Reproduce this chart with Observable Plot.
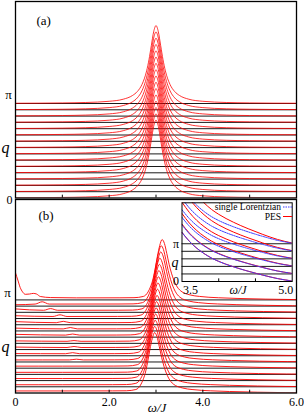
<!DOCTYPE html>
<html><head><meta charset="utf-8">
<script src="https://cdn.jsdelivr.net/npm/d3@7"></script>
<script src="https://cdn.jsdelivr.net/npm/@observablehq/plot@0.6"></script>
<style>
body{margin:0;background:#fff;}
#chart{position:relative;width:304px;height:415px;overflow:hidden;font-family:"Liberation Serif","DejaVu Serif",serif;}
#chart svg{position:absolute;overflow:visible;}
#chart svg text{font-family:"Liberation Serif","DejaVu Serif",serif !important;}
</style></head><body><div id="chart"></div>
<script>
// ---- data ----
const levels = [0,1,2,3,4,5,6,7,8,9,10,11,12,13,14,15];   // q index, q = k*pi/16
const xTickMinor = [1,2,3,4,5];
const xTickLabels = [0,2,4,6];

// panel (a): peak profile (offset from center, height in q-steps)
const centerA = 3.0;
const peakAOffset = [-3.0,-2.0,-1.5,-1.0,-0.7,-0.5,-0.4,-0.3,-0.2,-0.15,-0.1,-0.05,0,0.05,0.1,0.15,0.2,0.3,0.4,0.5,0.7,1.0,1.5,2.0,3.0];
const peakAHeight = [0.04,0.09,0.16,0.35,0.68,1.28,1.89,3.01,5.18,6.94,9.18,11.38,12.36,11.38,9.18,6.94,5.18,3.01,1.89,1.28,0.68,0.35,0.16,0.09,0.04];

// panel (b): peak centers per q, asymmetric profile, low-frequency features
const centersB = [2.97,2.97,2.98,2.99,3.00,3.01,3.02,3.03,3.04,3.05,3.06,3.07,3.08,3.10,3.11,3.13];
const peakBOffset = [-0.9,-0.6,-0.4,-0.3,-0.25,-0.2,-0.15,-0.1,-0.05,0,0.05,0.1,0.15,0.2,0.3,0.4,0.6,0.8,1.2,1.6,2.2,2.8];
const peakBHeight = [0.34,0.36,0.56,1.28,2.07,3.19,4.94,7.02,8.77,9.73,9.09,7.50,5.74,4.31,2.39,1.44,0.80,0.56,0.35,0.24,0.13,0.06];
const endB = 0.05;
const topLowB = [[0,4.35],[0.05,3.2],[0.1,2.0],[0.15,1.3],[0.21,0.9],[0.3,0.95],[0.38,1.05],[0.45,0.95],[0.53,0.55],[0.75,0.38],[1.3,0.33]];
const startB  = [0.33,0.33,0.33,0.33,0.33,0.33,0.35,0.4,0.4,0.45,0.45,0.5,0.45,0.55,0.22];
const bumpPosB = [null,null,null,null,null,1.3,1.22,1.25,1.25,1.22,1.17,1.02,0.95,0.75,0.57];
const bumpHB  = [0.33,0.33,0.33,0.33,0.33,0.45,0.5,0.5,0.45,0.5,0.55,0.55,0.6,0.6,0.7];
const bgB = 0.33;

// inset: tail of the spectra, PES vs single Lorentzian
const insetLevels = [0,1,2,3,4,5];
const omegaInset = [3.5,3.6,3.7,3.8,3.9,4.0,4.2,4.4,4.6,4.8,5.0];
const tailInset  = [1.0,0.82,0.68,0.57,0.48,0.41,0.30,0.21,0.13,0.06,0.01];
const ampRed  = [6.5,6.6,7.0,7.5,8.5,9.5];
const ampBlue = [6.5,6.5,6.5,6.5,7.0,7.5];

// ---- build tables ----
const curvesA = levels.flatMap(k => peakAOffset.map((o,i) => ({k, w: centerA + o, y: k + peakAHeight[i]})));
const curvesB = levels.flatMap(k => {
  let low;
  if (k === 15) low = topLowB;
  else if (bumpPosB[k] == null) low = [[0, startB[k]], [1.0, bgB]];
  else low = [[0, startB[k]], [bumpPosB[k]-0.15, bgB], [bumpPosB[k], bumpHB[k]], [bumpPosB[k]+0.15, bgB]];
  const peak = peakBOffset.map((o,i) => [centersB[k] + o, peakBHeight[i]]);
  return [...low, ...peak, [6, endB]].map(([w,h]) => ({k, w, y: k + h}));
});
const insetRed = insetLevels.flatMap(k => omegaInset.map((w,i) => ({k, w, y: k + ampRed[k]*tailInset[i]})));
const insetBlue = insetLevels.flatMap(k => omegaInset.map((w,i) => ({k, w, y: k + ampBlue[k]*tailInset[i]})));

const FONT = '"Liberation Serif", "DejaVu Serif", serif';
const chart = document.getElementById("chart");
const RED = "#ff0000";
const T = {fontFamily: FONT};

function place(svg, left, top) {
  svg.style.left = left + "px"; svg.style.top = top + "px";
  chart.appendChild(svg);
}

// ---- panel (b) ----
const plotB = Plot.plot({
  width: 304, height: 217,
  marginLeft: 15, marginRight: 8, marginTop: 1, marginBottom: 22.5,
  x: {domain: [0, 6]},
  y: {domain: [0, (394.5 - 199) / 6.27], axis: null},
  style: {fontFamily: FONT, fontSize: "12px", background: "transparent", color: "black"},
  marks: [
    Plot.ruleY(levels.filter(k => k > 0), {stroke: "black", strokeWidth: 0.9}),
    Plot.line(curvesB, {x: "w", y: "y", z: "k", stroke: RED, strokeWidth: 0.9, curve: "monotone-x", clip: true}),
    Plot.ruleX(xTickMinor, {y1: 0, y2: 0.45, stroke: "black"}),
    Plot.axisX({ticks: xTickLabels, tickSize: 0, tickPadding: 4, tickFormat: d => d === 0 ? "0" : d.toFixed(1), label: null, fontSize: 12, ...T}),
    Plot.frame({stroke: "black", strokeWidth: 1.3}),
    Plot.text(["(b)"], {frameAnchor: "top-left", dx: 23, dy: 16, fontSize: 13, lineAnchor: "middle", ...T}),
    Plot.text(["ω/J"], {frameAnchor: "bottom", dx: 1, dy: 14.5, fontSize: 13, fontStyle: "italic", lineAnchor: "middle", ...T}),
    Plot.text([{y: 16, t: "π"}], {x: 0, y: "y", text: "t", dx: -8, dy: -1, fontSize: 13, ...T}),
    Plot.text([{y: 7.4, t: "q"}], {x: 0, y: "y", text: "t", dx: -10, fontSize: 16, fontStyle: "italic", ...T})
  ]
});
place(plotB, 0, 198);

// ---- panel (a) ----
const plotA = Plot.plot({
  width: 304, height: 199,
  marginLeft: 15, marginRight: 8, marginTop: 1, marginBottom: 1.5,
  x: {domain: [0, 6], axis: null},
  y: {domain: [0, (197.5 - 1) / 6.3], axis: null},
  style: {fontFamily: FONT, fontSize: "12px", background: "transparent", color: "black"},
  marks: [
    Plot.ruleY(levels.filter(k => k > 0), {stroke: "black", strokeWidth: 0.9}),
    Plot.line(curvesA, {x: "w", y: "y", z: "k", stroke: RED, strokeWidth: 0.8, curve: "monotone-x", clip: true}),
    Plot.ruleX(xTickMinor, {y1: 0, y2: 0.45, stroke: "black"}),
    Plot.frame({stroke: "black", strokeWidth: 1.3}),
    Plot.text(["(a)"], {frameAnchor: "top-left", dx: 21, dy: 19, fontSize: 13, lineAnchor: "middle", ...T}),
    Plot.text([{y: 16, t: "π"}], {x: 0, y: "y", text: "t", dx: -7, dy: -2, fontSize: 13, ...T}),
    Plot.text([{y: 0, t: "0"}], {x: 0, y: "y", text: "t", dx: -6, dy: 2, fontSize: 12, ...T}),
    Plot.text([{y: 7.9, t: "q"}], {x: 0, y: "y", text: "t", dx: -10, fontSize: 16, fontStyle: "italic", ...T})
  ]
});
place(plotA, 0, 0);

// ---- inset ----
const plotI = Plot.plot({
  width: 129, height: 94,
  marginLeft: 15.5, marginRight: 3.3, marginTop: 2.3, marginBottom: 13,
  x: {domain: [3.5, 5.0], axis: null},
  y: {domain: [0, 78.7 / 7.55], axis: null},
  style: {fontFamily: FONT, fontSize: "11px", background: "transparent", color: "black"},
  marks: [
    Plot.frame({fill: "white", stroke: "none"}),
    Plot.ruleY(insetLevels.filter(k => k > 0), {stroke: "black", strokeWidth: 0.9}),
    Plot.line(insetRed, {x: "w", y: "y", z: "k", stroke: RED, strokeWidth: 1, curve: "monotone-x", clip: true}),
    Plot.line(insetBlue, {x: "w", y: "y", z: "k", stroke: "#3a3aff", strokeWidth: 1, strokeDasharray: "1.5,1", curve: "monotone-x", clip: true}),
    Plot.ruleX([4.0, 4.5], {y1: 0, y2: 0.35, stroke: "black"}),
    Plot.frame({stroke: "black", strokeWidth: 1}),
    Plot.text(["3.5"], {frameAnchor: "bottom-left", dx: 1, dy: 9, textAnchor: "start", fontSize: 12, lineAnchor: "middle", ...T}),
    Plot.text(["5.0"], {frameAnchor: "bottom-right", dx: 1, dy: 9, textAnchor: "end", fontSize: 12, lineAnchor: "middle", ...T}),
    Plot.text(["ω/J"], {frameAnchor: "bottom", dx: 1, dy: 8.5, fontSize: 12, fontStyle: "italic", lineAnchor: "middle", ...T}),
    Plot.text([{y: 5, t: "π"}, {y: 0, t: "0"}], {x: 3.5, y: "y", text: "t", dx: -6, fontSize: 12, ...T}),
    Plot.text([{y: 2.55, t: "q"}], {x: 3.5, y: "y", text: "t", dx: -7, fontSize: 14, fontStyle: "italic", ...T})
  ]
});
place(plotI, 166, 200);

// legend inside inset
const svgI = d3.select(plotI);
const leg = svgI.append("g").attr("font-family", FONT).attr("font-size", 9.5);
leg.append("text").attr("x", 115).attr("y", 7).attr("dy", "0.35em").attr("text-anchor", "end").text("single Lorentzian");
leg.append("line").attr("x1", 117).attr("x2", 126).attr("y1", 7).attr("y2", 7).attr("stroke", "#3a3aff").attr("stroke-dasharray", "1.5,1");
leg.append("text").attr("x", 115).attr("y", 16.5).attr("dy", "0.35em").attr("text-anchor", "end").text("PES");
leg.append("line").attr("x1", 117).attr("x2", 126).attr("y1", 16.5).attr("y2", 16.5).attr("stroke", RED);
</script>
</body></html>
